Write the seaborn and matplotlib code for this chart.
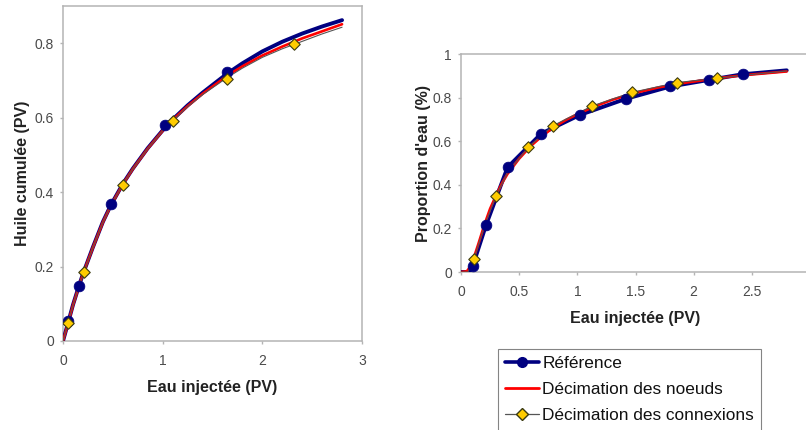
import matplotlib
matplotlib.use("Agg")
import matplotlib.pyplot as plt
import seaborn as sns
from matplotlib.lines import Line2D

sns.set_style("white")
plt.rcParams['font.family'] = ['Liberation Sans', 'DejaVu Sans']

# ---------------- Left chart: Huile cumulée ----------------
L_ref_line_x = [0, 0.05, 0.10, 0.16, 0.20, 0.30, 0.40, 0.48, 0.60, 0.70, 0.85, 1.00, 1.10, 1.25, 1.40, 1.65, 1.80, 2.00, 2.20, 2.40, 2.60, 2.80]
L_ref_line_y = [0, 0.048, 0.097, 0.148, 0.180, 0.252, 0.320, 0.365, 0.422, 0.463, 0.518, 0.566, 0.595, 0.633, 0.667, 0.719, 0.746, 0.778, 0.804, 0.826, 0.845, 0.862]
L_ref_mk_x = [0.05, 0.16, 0.48, 1.02, 1.65]
L_ref_mk_y = [0.054, 0.148, 0.369, 0.579, 0.722]

L_noe_x = [0, 0.05, 0.10, 0.16, 0.20, 0.30, 0.40, 0.48, 0.60, 0.70, 0.85, 1.00, 1.10, 1.25, 1.40, 1.65, 1.80, 2.00, 2.20, 2.40, 2.60, 2.80]
L_noe_y = [0, 0.047, 0.096, 0.147, 0.180, 0.251, 0.319, 0.364, 0.421, 0.462, 0.517, 0.565, 0.594, 0.631, 0.664, 0.713, 0.738, 0.767, 0.791, 0.813, 0.832, 0.851]

L_con_line_x = [0, 0.05, 0.10, 0.16, 0.21, 0.30, 0.40, 0.48, 0.60, 0.70, 0.85, 1.00, 1.10, 1.25, 1.40, 1.65, 1.80, 2.00, 2.20, 2.32, 2.40, 2.60, 2.80]
L_con_line_y = [0, 0.048, 0.096, 0.147, 0.186, 0.251, 0.319, 0.364, 0.421, 0.462, 0.517, 0.565, 0.592, 0.630, 0.662, 0.708, 0.733, 0.762, 0.785, 0.797, 0.805, 0.825, 0.843]
L_con_mk_x = [0.05, 0.21, 0.60, 1.10, 1.65, 2.32]
L_con_mk_y = [0.048, 0.186, 0.420, 0.592, 0.705, 0.797]

# ---------------- Right chart: Proportion d'eau ----------------
R_ref_line_x = [0, 0.07, 0.10, 0.215, 0.40, 0.69, 1.02, 1.415, 1.80, 2.13, 2.42, 2.80]
R_ref_line_y = [0, 0.0, 0.026, 0.215, 0.48, 0.635, 0.72, 0.794, 0.851, 0.881, 0.907, 0.925]
R_ref_mk_x = [0.10, 0.215, 0.40, 0.69, 1.02, 1.415, 1.80, 2.13, 2.42]
R_ref_mk_y = [0.026, 0.215, 0.48, 0.635, 0.72, 0.794, 0.851, 0.881, 0.907]

R_noe_x = [0, 0.05, 0.08, 0.11, 0.15, 0.20, 0.25, 0.30, 0.35, 0.40, 0.50, 0.60, 0.70, 0.80, 0.90, 1.00, 1.15, 1.30, 1.50, 1.70, 1.90, 2.10, 2.30, 2.50, 2.80]
R_noe_y = [0, 0.003, 0.025, 0.065, 0.130, 0.215, 0.290, 0.350, 0.405, 0.450, 0.520, 0.578, 0.625, 0.665, 0.697, 0.724, 0.760, 0.790, 0.822, 0.847, 0.866, 0.881, 0.895, 0.906, 0.920]

R_con_line_x = [0, 0.06, 0.112, 0.20, 0.30, 0.40, 0.58, 0.79, 1.13, 1.47, 1.86, 2.20, 2.50, 2.80]
R_con_line_y = [0, 0.0, 0.061, 0.210, 0.348, 0.455, 0.573, 0.671, 0.762, 0.824, 0.869, 0.889, 0.906, 0.922]
R_con_mk_x = [0.112, 0.30, 0.58, 0.79, 1.13, 1.47, 1.86, 2.20]
R_con_mk_y = [0.061, 0.348, 0.573, 0.671, 0.762, 0.824, 0.869, 0.889]

labels = ["Référence", "Décimation des noeuds", "Décimation des connexions"]
x_label = "Eau injectée (PV)"
left_ylabel = "Huile cumulée (PV)"
right_ylabel = "Proportion d'eau (%)"
L_xticks = [0, 1, 2, 3]
L_xticklabels = ["0", "1", "2", "3"]
L_yticks = [0, 0.2, 0.4, 0.6, 0.8]
L_yticklabels = ["0", "0.2", "0.4", "0.6", "0.8"]
R_xticks = [0, 0.5, 1, 1.5, 2, 2.5, 3]
R_xticklabels = ["0", "0.5", "1", "1.5", "2", "2.5", "3"]
R_yticks = [0, 0.2, 0.4, 0.6, 0.8, 1]
R_yticklabels = ["0", "0.2", "0.4", "0.6", "0.8", "1"]

NAVY = "#000080"
RED = "#ff0000"
GOLD = "#ffcc00"
GRAYLINE = "#555555"
SPINE = "#b4b4b4"

fig = plt.figure(figsize=(8.06, 4.30), dpi=100)
axL = fig.add_axes([63/806, 1-341/430, (362-63)/806, (341-6)/430])
axR = fig.add_axes([461/806, 1-272/430, (810-461)/806, (272-54)/430])


def draw(ax, rlx, rly, rmx, rmy, nx, ny, clx, cly, cmx, cmy):
    sns.lineplot(x=rlx, y=rly, ax=ax, color=NAVY, lw=2.8, sort=False, estimator=None, zorder=3)
    sns.lineplot(x=nx, y=ny, ax=ax, color=RED, lw=1.9, sort=False, estimator=None, zorder=4)
    sns.lineplot(x=clx, y=cly, ax=ax, color=GRAYLINE, lw=0.8, sort=False, estimator=None, zorder=5)
    sns.scatterplot(x=rmx, y=rmy, ax=ax, color=NAVY, marker="o", s=60, edgecolor=NAVY, linewidth=0.5, zorder=6)
    sns.scatterplot(x=cmx, y=cmy, ax=ax, color=GOLD, marker="D", s=34, edgecolor="#3a3a10", linewidth=0.8, zorder=7)


draw(axL, L_ref_line_x, L_ref_line_y, L_ref_mk_x, L_ref_mk_y, L_noe_x, L_noe_y,
     L_con_line_x, L_con_line_y, L_con_mk_x, L_con_mk_y)
draw(axR, R_ref_line_x, R_ref_line_y, R_ref_mk_x, R_ref_mk_y, R_noe_x, R_noe_y,
     R_con_line_x, R_con_line_y, R_con_mk_x, R_con_mk_y)

axL.set_xlim(0, 3)
axL.set_ylim(0, 0.9)
axL.set_xticks(L_xticks)
axL.set_xticklabels(L_xticklabels)
axL.set_yticks(L_yticks)
axL.set_yticklabels(L_yticklabels)
axL.set_ylabel(left_ylabel, fontsize=11.5, fontweight="bold", color="#222222", labelpad=3)

axR.set_xlim(0, 3)
axR.set_ylim(0, 1)
axR.set_xticks(R_xticks)
axR.set_xticklabels(R_xticklabels)
axR.set_yticks(R_yticks)
axR.set_yticklabels(R_yticklabels)
axR.set_ylabel(right_ylabel, fontsize=11.5, fontweight="bold", color="#222222", labelpad=1.5)

for ax in (axL, axR):
    ax.set_xlabel(x_label, fontsize=11.5, fontweight="bold", color="#222222", labelpad=8.5)
    ax.tick_params(axis="both", which="major", direction="out", length=2.5, width=1.0,
                   labelsize=10, color=SPINE, labelcolor="#4a4a4a")
    ax.tick_params(axis="y", pad=4)
    ax.tick_params(axis="x", pad=7)
    ax.tick_params(left=True, bottom=True)
    for s in ("top", "right", "left", "bottom"):
        ax.spines[s].set_color(SPINE)
        ax.spines[s].set_linewidth(1.1)
    ax.set_facecolor("white")

handles = [
    Line2D([], [], color=NAVY, lw=2.6, marker="o", markersize=7, markerfacecolor=NAVY),
    Line2D([], [], color=RED, lw=2.0),
    Line2D([], [], color=GRAYLINE, lw=0.9, marker="D", markersize=6,
           markerfacecolor=GOLD, markeredgecolor="#3a3a10"),
]
leg = fig.legend(handles, labels, loc="upper left", bbox_to_anchor=(498/806, 1-349/430),
                 fontsize=12.4, frameon=True, fancybox=False, handlelength=1.95,
                 handletextpad=0.2, labelspacing=0.64, borderpad=0.42, borderaxespad=0)
leg.get_frame().set_edgecolor("#666666")
leg.get_frame().set_linewidth(0.8)
for t in leg.get_texts():
    t.set_color("#111111")

fig.savefig("out.png", dpi=100)
